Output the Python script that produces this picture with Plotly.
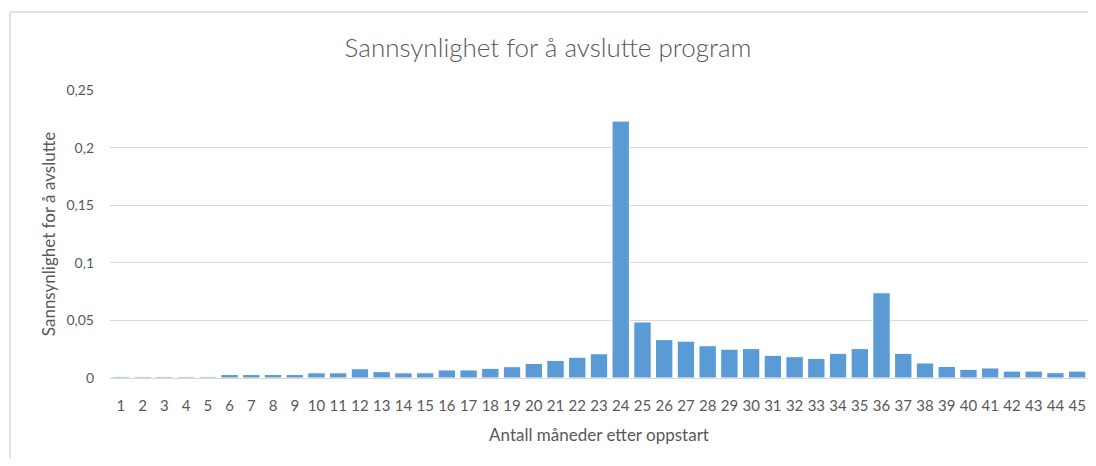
import plotly.graph_objects as go

months = [str(i) for i in range(1, 46)]
probability = [
    0.0012, 0.0012, 0.0012, 0.0012, 0.0012, 0.003, 0.003, 0.003, 0.003, 0.0045,
    0.0045, 0.008, 0.0055, 0.0045, 0.0045, 0.007, 0.007, 0.0084, 0.0098, 0.0127,
    0.0153, 0.018, 0.021, 0.223, 0.0486, 0.0333, 0.032, 0.028, 0.025, 0.0255,
    0.0197, 0.0185, 0.017, 0.0214, 0.0255, 0.074, 0.0214, 0.013, 0.010, 0.0075,
    0.0087, 0.006, 0.006, 0.0046, 0.006,
]
y_ticks = [0, 0.05, 0.1, 0.15, 0.2, 0.25]
y_ticktext = ["0", "0,05", "0,1", "0,15", "0,2", "0,25"]

FONT = "Lato"
GREY = "#595959"
LINE = "#d9d9d9"

fig = go.Figure(go.Bar(
    x=months, y=probability,
    marker=dict(color="#5b9bd5", line=dict(color="white", width=1)),
))

# page body has an 8px margin; figure coordinates = screen - 8
OFF = 8
W, H = 1080, 450
ml, mr, mt, mb = 110 - OFF, 0, 90 - OFF, H - (378 - OFF)
pw, ph = W - ml - mr, H - mt - mb

def px_x(p):
    return (p - OFF - ml) / pw

def px_y(p):
    return (H - mb - (p - OFF)) / ph

fig.update_layout(
    width=W, height=H,
    margin=dict(l=ml, r=mr, t=mt, b=mb),
    paper_bgcolor="white", plot_bgcolor="white",
    bargap=0.2,
    separators=", ",
    showlegend=False,
    title=dict(text="Sannsynlighet for å avslutte program",
               x=0.5, xref="container", xanchor="center",
               y=1 - (48 - OFF) / H, yanchor="middle",
               font=dict(family=FONT, size=26, color=GREY, weight=300)),
    font=dict(family=FONT, size=14, color=GREY),
    xaxis=dict(
        type="category", showgrid=False, showline=True, linecolor=LINE, linewidth=1,
        ticks="", ticklabelstandoff=14, tickfont=dict(family=FONT, size=15, color=GREY),
        title=dict(text="Antall måneder etter oppstart", standoff=16,
                   font=dict(family=FONT, size=17, color=GREY)),
    ),
    yaxis=dict(
        range=[0, 0.25], tickvals=y_ticks, ticktext=y_ticktext,
        showgrid=True, gridcolor=LINE, gridwidth=1, zeroline=False,
        showline=False, ticks="", ticklabelstandoff=15,
        tickfont=dict(family=FONT, size=14, color=GREY),
        title=dict(text="Sannsynlighet for å avslutte", standoff=6,
                   font=dict(family=FONT, size=17, color=GREY)),
    ),
    shapes=[
        dict(type="line", xref="paper", yref="paper",
             x0=px_x(10), x1=px_x(10), y0=px_y(H + 40), y1=px_y(12),
             line=dict(color=LINE, width=1.5)),
        dict(type="line", xref="paper", yref="paper",
             x0=px_x(10), x1=px_x(W + 40), y0=px_y(12), y1=px_y(12),
             line=dict(color=LINE, width=1.5)),
    ],
)

fig.write_html("out.html")
